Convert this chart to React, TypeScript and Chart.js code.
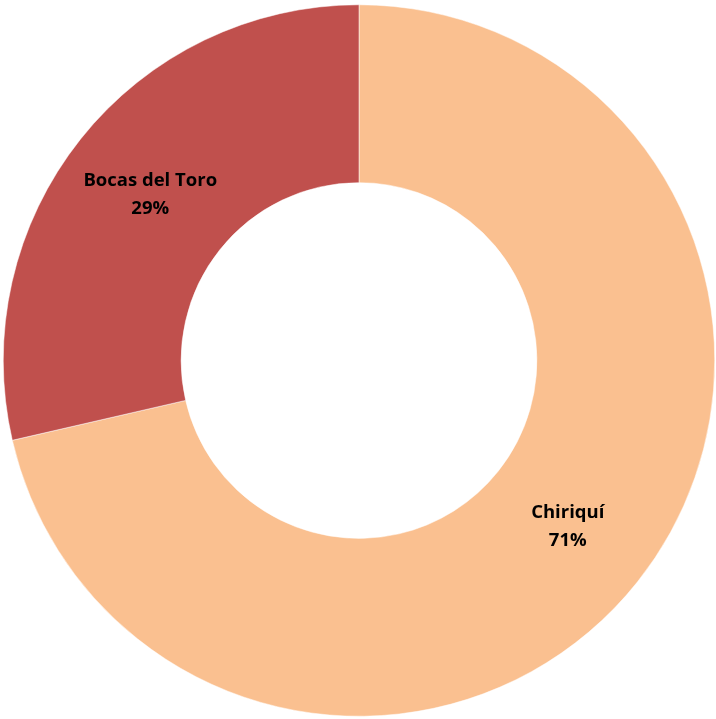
import React, { useEffect, useRef } from "react";
import { Chart, registerables } from "chart.js";

Chart.register(...registerables);

const categories = ["Chiriquí", "Bocas del Toro"];
const values = [71.4, 28.6];
const percentLabels = ["71%", "29%"];
const colors = ["#FAC090", "#C0504D"];

const labelPlugin = {
  id: "sliceLabels",
  afterDatasetsDraw(chart: any) {
    const ctx = chart.ctx;
    const meta = chart.getDatasetMeta(0);
    ctx.save();
    ctx.font = "bold 18.5px 'Open Sans', Lato, sans-serif";
    ctx.fillStyle = "#000";
    ctx.textAlign = "center";
    ctx.textBaseline = "middle";
    meta.data.forEach((arc: any, i: number) => {
      const { startAngle, endAngle, innerRadius, outerRadius, x, y } = arc.getProps(
        ["startAngle", "endAngle", "innerRadius", "outerRadius", "x", "y"],
        true
      );
      const mid = (startAngle + endAngle) / 2;
      const r = (innerRadius + outerRadius) / 2;
      const cx = x + Math.cos(mid) * r;
      const cy = y + Math.sin(mid) * r;
      ctx.fillText(categories[i], cx, cy - 14);
      ctx.fillText(percentLabels[i], cx, cy + 14);
    });
    ctx.restore();
  },
};

export default function App() {
  const ref = useRef<HTMLCanvasElement>(null);
  useEffect(() => {
    if (!ref.current) return;
    const chart = new Chart(ref.current, {
      type: "doughnut",
      data: {
        labels: categories,
        datasets: [
          {
            data: values,
            backgroundColor: colors,
            borderColor: "#ffffff",
            borderWidth: 0.5,
          },
        ],
      },
      options: {
        animation: false,
        responsive: false,
        cutout: "50%",
        layout: { padding: { left: 3, right: 1, top: 4.5, bottom: 2.5 } },
        plugins: { legend: { display: false }, tooltip: { enabled: false } },
      },
      plugins: [labelPlugin],
    });
    return () => chart.destroy();
  }, []);
  return (
    <div style={{ position: "absolute", left: 0, top: 0, width: 716, height: 719, background: "#fff" }}>
      <canvas ref={ref} width={716} height={719} style={{ width: 716, height: 719 }} />
    </div>
  );
}
